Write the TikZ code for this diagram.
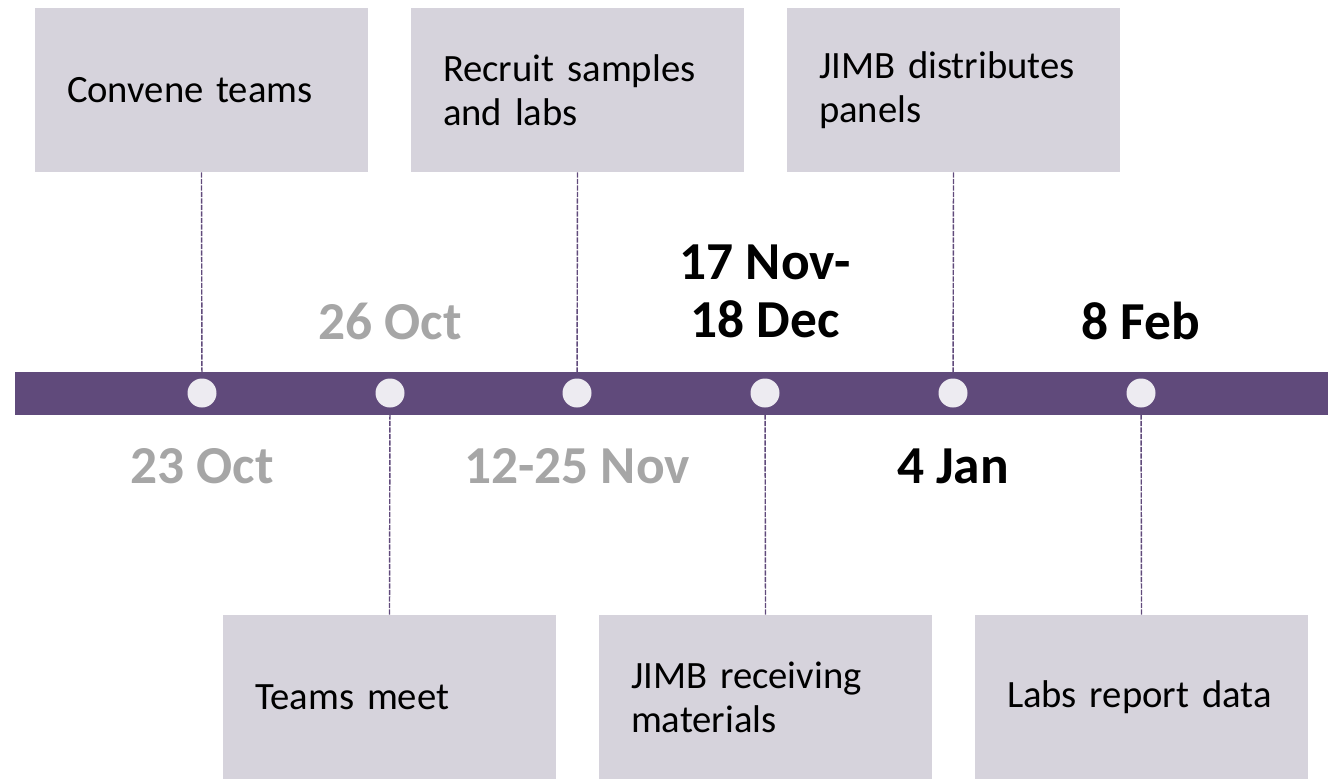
\documentclass[tikz,border=0pt]{standalone}
\usepackage{fontspec}
\setmainfont{Carlito}
\definecolor{barpurple}{HTML}{604A7B}
\definecolor{boxgray}{HTML}{D6D3DC}
\definecolor{dotwhite}{HTML}{EDEBF1}
\definecolor{dategray}{HTML}{A6A6A6}
\begin{document}
\begin{tikzpicture}[x=0.02cm, y=-0.02cm,
    event/.style = {fill=boxgray, minimum height=3.28cm, inner xsep=0.64cm, text width=5.38cm, align=left, font=\fontsize{22}{25}\selectfont},
    dot/.style = {circle, fill=dotwhite, minimum size=0.58cm, inner sep=0pt},
    date/.style = {font=\fontsize{30.4}{33}\selectfont\bfseries, align=center},
    link/.style = {barpurple, line width=0.8pt, dash pattern=on 3pt off 0.7pt}]
      \useasboundingbox (0, 0) rectangle (1337, 779);

      \node [event] (convene) at (201.5, 90) {Convene teams};
      \node [event] (recruit) at (577.5, 90) {Recruit samples\\and labs};
      \node [event] (distrib) at (953.5, 90) {JIMB distributes\\panels};
      \node [event] (meet) at (389.5, 697) {Teams meet};
      \node [event] (receive) at (765.5, 697) {JIMB receiving\\materials};
      \node [event] (report) at (1141.5, 697) {Labs report data};

      \coordinate (t1) at (202, 393);
      \coordinate (t2) at (390, 393);
      \coordinate (t3) at (577, 393);
      \coordinate (t4) at (765, 393);
      \coordinate (t5) at (953, 393);
      \coordinate (t6) at (1141, 393);

      \draw [link] (convene.south) -- (t1);
      \draw [link] (recruit.south) -- (t3);
      \draw [link] (distrib.south) -- (t5);
      \draw [link] (meet.north) -- (t2);
      \draw [link] (receive.north) -- (t4);
      \draw [link] (report.north) -- (t6);

      \fill [barpurple] (15, 372) rectangle (1328, 415);
      \foreach \i in {1, ..., 6}
        \node [dot] (d\i) at (t\i) {};

      \node [date, dategray] (oct23) at (202, 466) {23 Oct};
      \node [date, dategray] (oct26) at (390, 321) {26 Oct};
      \node [date, dategray] (nov12) at (577, 466) {12-25 Nov};
      \node [date] (nov17) at (765, 291) {17 Nov-\\18 Dec};
      \node [date] (jan4) at (953, 466) {4 Jan};
      \node [date] (feb8) at (1141, 321) {8 Feb};
    \end{tikzpicture}
\end{document}
